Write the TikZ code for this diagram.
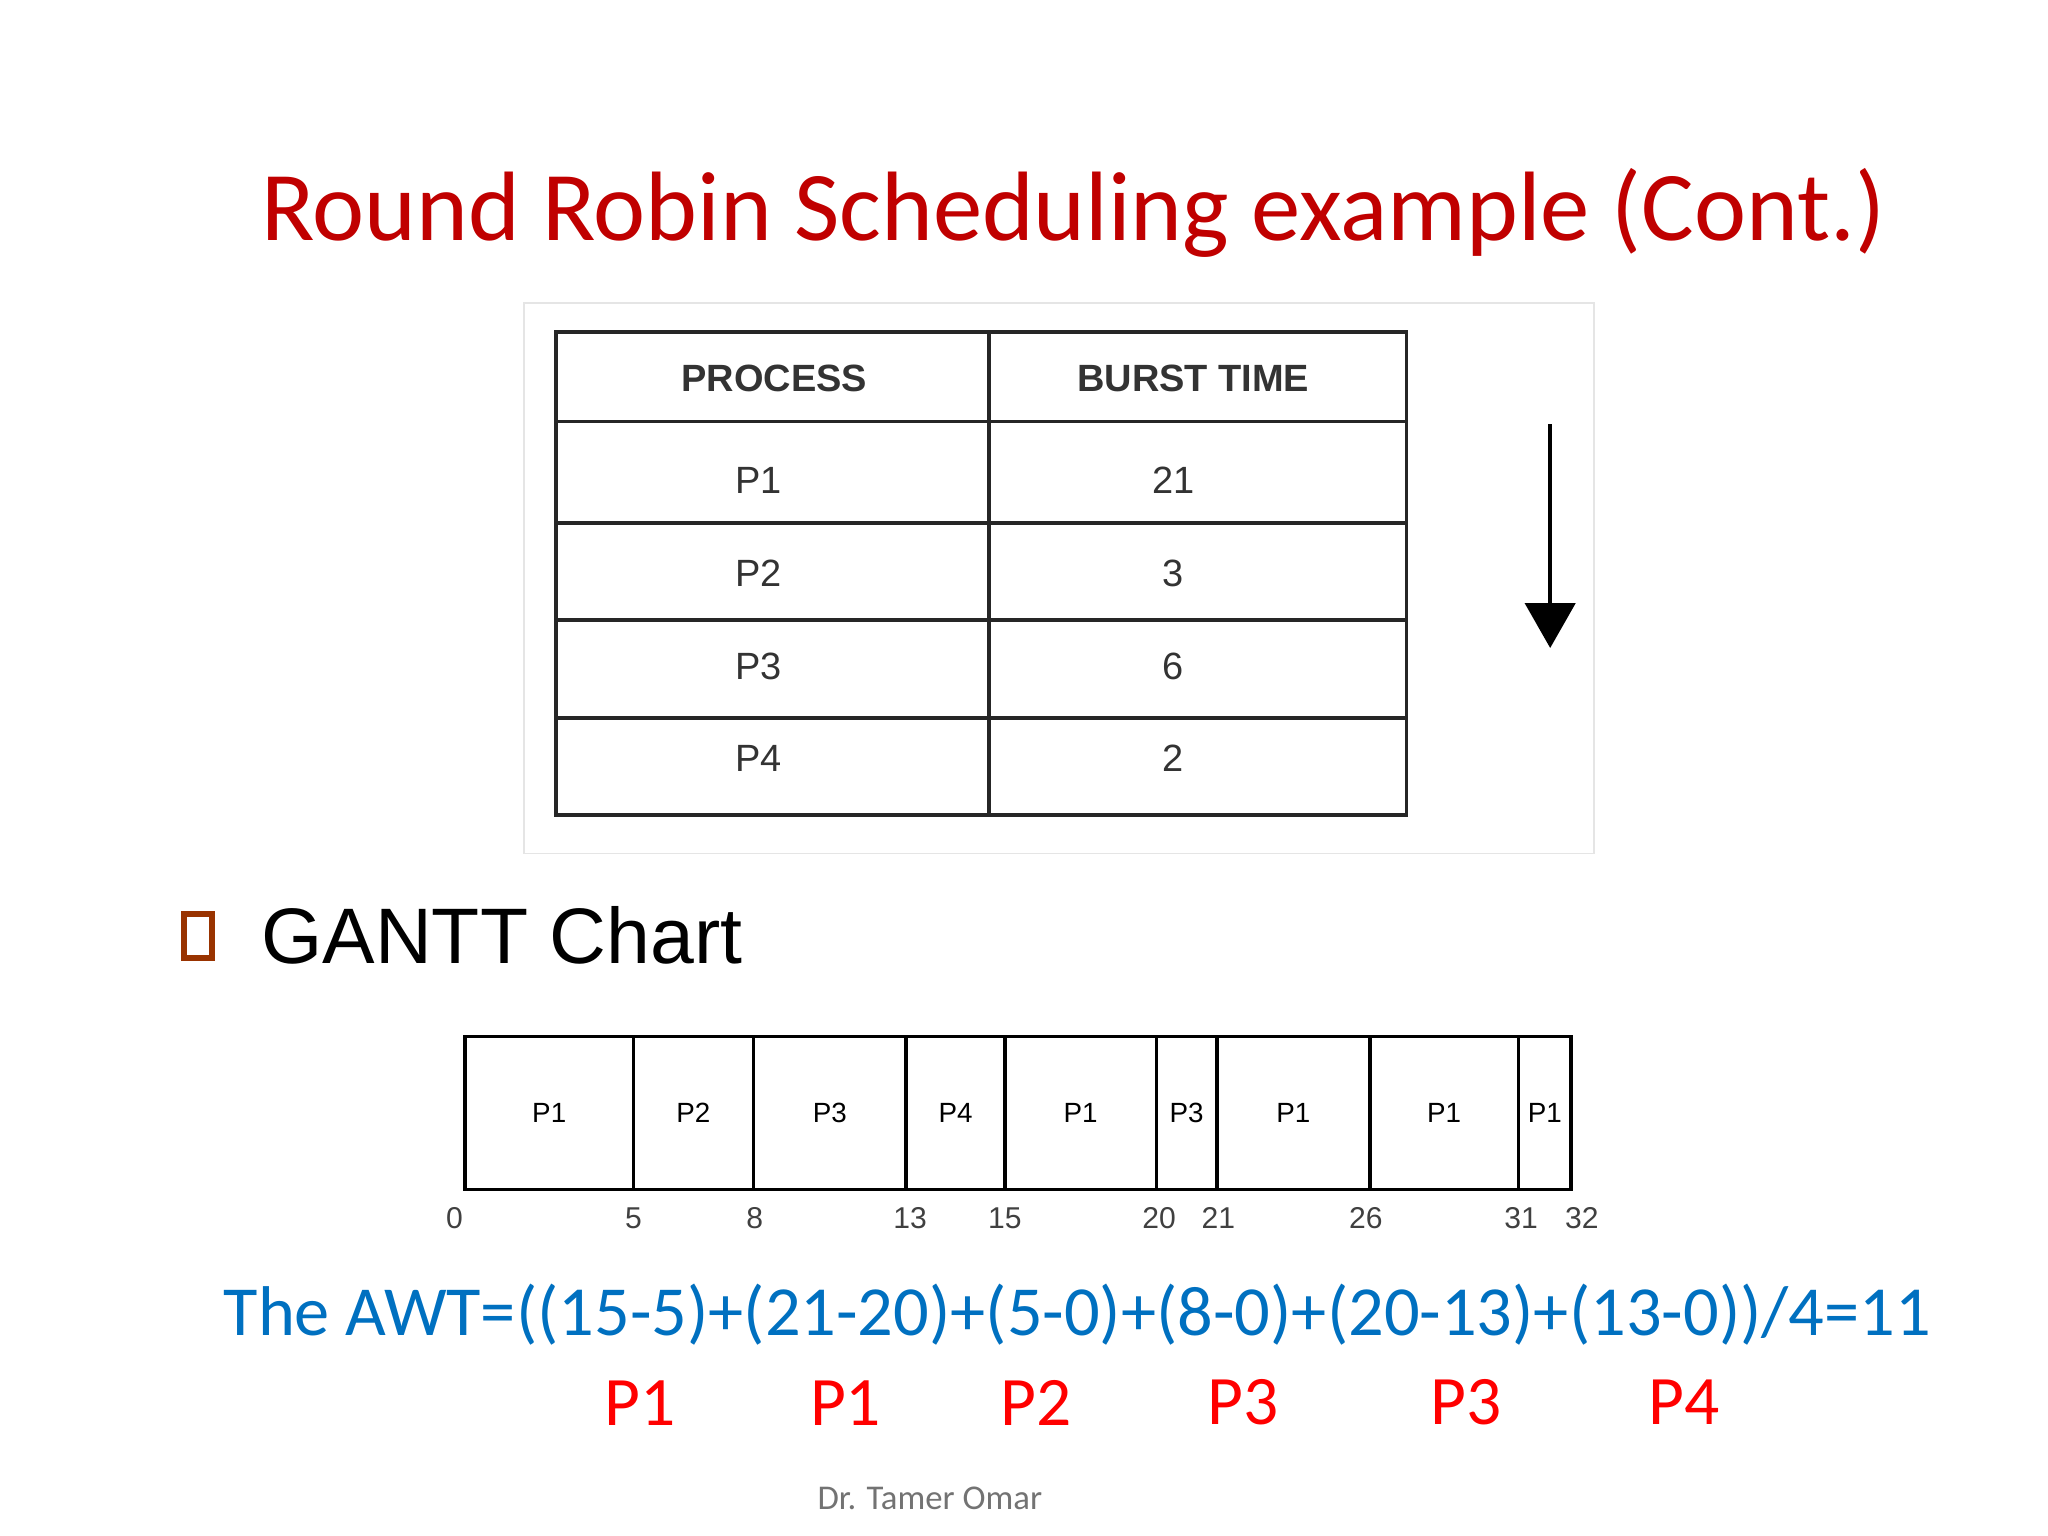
\documentclass[tikz,border=0pt]{standalone}
\usepackage{fontspec}
\usetikzlibrary{arrows.meta}
\setmainfont{Carlito}
\newfontfamily\arial{Liberation Sans}
\definecolor{titlered}{RGB}{192,0,0}
\definecolor{awtblue}{RGB}{0,112,192}
\definecolor{bulletbrown}{RGB}{153,51,0}
\begin{document}
\begin{tikzpicture}[
        x=0.01cm, y=-0.01cm,
        tabletext/.style={font=\arial\fontsize{8.2}{10}\selectfont, text=black!80},
        ganttcell/.style={draw, thick, minimum height=1.16cm, inner sep=0pt, font=\arial\fontsize{6}{7}\selectfont},
        ticklabel/.style={font=\arial\fontsize{6.5}{8}\selectfont, text=black!75},
        plabel/.style={font=\fontsize{15}{18}\selectfont, text=red},
    ]
    \useasboundingbox (0,0) rectangle (1555,1166);
    % title
    \node[text=titlered, font=\fontsize{21.3}{26}\selectfont] (title) at (815,162) {Round Robin Scheduling example (Cont.)};
    % table
    \draw[black!10] (398,230) rectangle (1210,648);
    \draw[thick, black!85] (422,252) rectangle (1068,619);
    \draw[thick, black!85] (751,252) -- (751,619);
    \foreach \y in {320,397,471,545}
        \draw[thick, black!85] (422,\y) -- (1068,\y);
    \node[tabletext, font=\arial\bfseries\fontsize{8.2}{10}\selectfont] (hproc) at (588,287) {PROCESS};
    \node[tabletext, font=\arial\bfseries\fontsize{8.2}{10}\selectfont] (hburst) at (906,287) {BURST TIME};
    \foreach \p/\b/\y in {P1/21/365, P2/3/435, P3/6/506, P4/2/576} {
        \node[tabletext] (proc\p) at (576,\y) {\p};
        \node[tabletext] (burst\p) at (891,\y) {\b};
    }
    \coordinate (arrtop) at (1177,322);
    \coordinate (arrbot) at (1177,492);
    \draw[thick, -{Triangle[width=0.38cm,length=0.34cm]}] (arrtop) -- (arrbot);
    % gantt chart
    \draw[bulletbrown, line width=1.3pt] (140,694) rectangle (161,727);
    \node[anchor=west, font=\arial\fontsize{17}{20}\selectfont] (gantt) at (186,710) {GANTT Chart};
    \foreach \a/\b/\p in {353/481/P1, 481/572/P2, 572/688/P3, 688/763/P4, 763/878/P1, 878/924/P3, 924/1040/P1, 1040/1153/P1, 1153/1193/P1}
        \node[ganttcell, minimum width=(\b-\a)*0.01cm] (cell\a) at ({(\a+\b)/2},845) {\p};
    \foreach \x/\t in {345/0, 481/5, 573/8, 691/13, 763/15, 880/20, 925/21, 1037/26, 1155/31, 1201/32}
        \node[ticklabel] (tick\t) at (\x,925) {\t};
    % average waiting time
    \node[text=awtblue, font=\fontsize{15.2}{18}\selectfont] (awt) at (818,998) {The AWT=((15-5)+(21-20)+(5-0)+(8-0)+(20-13)+(13-0))/4=11};
    \foreach \x/\p [count=\i] in {486/P1, 642/P1, 787/P2, 944/P3, 1113/P3, 1279/P4}
        \node[plabel] (who\i) at (\x,1065) {\p};
    \node[text=black!55, font=\fontsize{7.5}{9}\selectfont] (author) at (706,1138) {Dr. Tamer Omar};
\end{tikzpicture}
\end{document}
